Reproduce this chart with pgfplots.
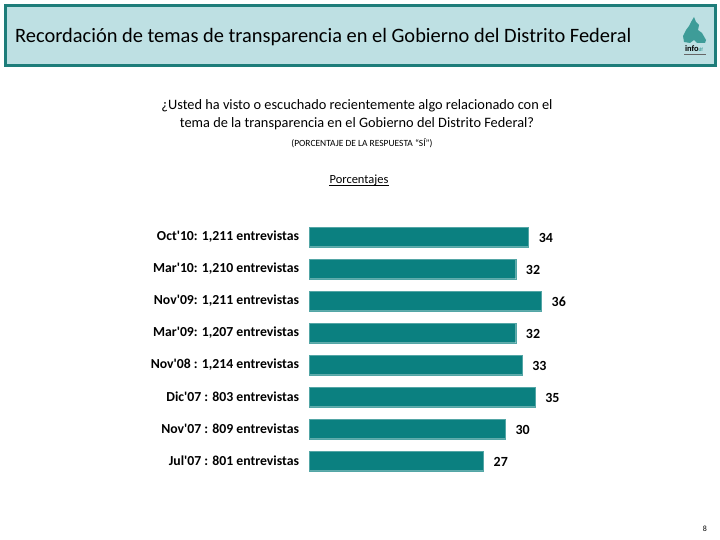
\documentclass[border=0pt]{standalone}
\usepackage{pgfplots}
\pgfplotsset{compat=1.18}
\usepackage{fontspec}
\setmainfont{Carlito}
\definecolor{barteal}{HTML}{0B8080}
\definecolor{hdrfill}{HTML}{BEE0E3}
\definecolor{hdrline}{HTML}{1E7D7A}
\definecolor{logoteal}{HTML}{3E9C98}
\begin{document}
\begin{tikzpicture}[x=1bp,y=1bp]
\path[use as bounding box,fill=white] (0,0) rectangle (720,540);
\draw[line width=3bp,draw=hdrline,fill=hdrfill] (5,474) rectangle (715,534);
\node[anchor=west,inner sep=0] at (15,503) {\fontsize{20.5}{24}\selectfont Recordación de temas de transparencia en el Gobierno del Distrito Federal};
% logo approximation
\fill[logoteal] (694,523) -- (696,518) -- (699,515) -- (698,510) -- (702,507) -- (706,500) -- (705,497) -- (697,497) -- (694,500) -- (690,497) -- (684,498) -- (683,504) -- (686,510) -- (689,514) -- (691,518) -- cycle;
\node[inner sep=0,anchor=base] at (694,488) {\fontsize{8.5}{9}\selectfont\bfseries info\textcolor{logoteal}{\fontsize{5}{6}\selectfont df}};
\draw[line width=0.4bp,black!60] (684,486) -- (706,486);
\node[inner sep=0,anchor=base] at (357,430) {\fontsize{14.4}{18}\selectfont ¿Usted ha visto o escuchado recientemente algo relacionado con el};
\node[inner sep=0,anchor=base] at (357,412) {\fontsize{14.4}{18}\selectfont tema de la transparencia en el Gobierno del Distrito Federal?};
\node[inner sep=0,anchor=base] at (362,393) {\fontsize{9.5}{11}\selectfont (PORCENTAJE DE LA RESPUESTA “SÍ”)};
\node[inner sep=0,anchor=base] (pc) at (359,356) {\fontsize{12.5}{14}\selectfont Porcentajes};
\draw[line width=0.6bp] ([yshift=-1.5bp]pc.base west) -- ([yshift=-1.5bp]pc.base east);
\node[inner sep=0] at (705,11) {\fontsize{8}{9}\selectfont 8};
\begin{axis}[
  at={(309.5bp,79bp)}, anchor=south west,
  scale only axis, width=232bp, height=224bp,
  xmin=0, xmax=36, ymin=0, ymax=7,
  enlarge x limits=false, enlarge y limits=false,
  clip=false,
  xbar, bar width=19.5bp, bar shift=0pt,
  axis line style={draw=none}, tick style={draw=none},
  xtick=\empty,
  ytick={0,...,7},
  yticklabels={{Jul\textquotesingle07 : 801 entrevistas},{Nov\textquotesingle07 : 809 entrevistas},{Dic\textquotesingle07 : 803 entrevistas},{Nov\textquotesingle08 : 1,214 entrevistas},{Mar\textquotesingle09: 1,207 entrevistas},{Nov\textquotesingle09: 1,211 entrevistas},{Mar\textquotesingle10: 1,210 entrevistas},{Oct\textquotesingle10: 1,211 entrevistas}},
  yticklabel style={font=\fontsize{13.8}{16}\selectfont\bfseries, anchor=east, inner sep=0pt, xshift=-6bp},
  nodes near coords,
  nodes near coords style={font=\fontsize{14}{16}\selectfont\bfseries, anchor=west, inner sep=0pt, xshift=10bp, yshift=-1bp},
  point meta=explicit symbolic,
]
\addplot[fill=barteal, draw=barteal!70] coordinates {
(27,0) [27]
(30.4,1) [30]
(35,2) [35]
(33,3) [33]
(32,4) [32]
(36,5) [36]
(32,6) [32]
(34,7) [34]
};
\end{axis}
\end{tikzpicture}
\end{document}
